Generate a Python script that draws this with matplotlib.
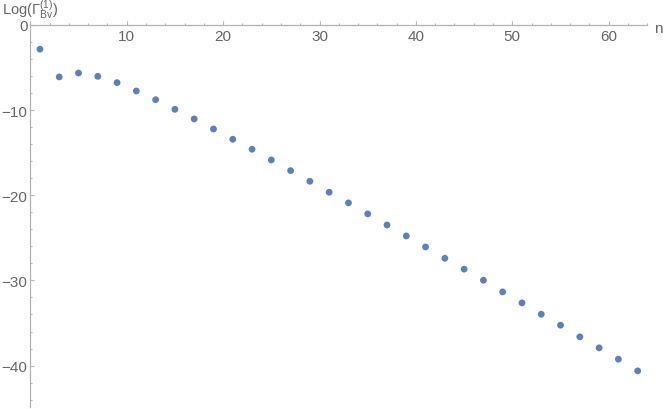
import matplotlib
matplotlib.use("Agg")
import matplotlib.pyplot as plt
from matplotlib.ticker import MultipleLocator, FuncFormatter

n_values = [1, 3, 5, 7, 9, 11, 13, 15, 17, 19, 21, 23, 25, 27, 29, 31,
            33, 35, 37, 39, 41, 43, 45, 47, 49, 51, 53, 55, 57, 59, 61, 63]
log_gamma = [-2.85, -6.11, -5.65, -6.04, -6.78, -7.76, -8.78, -9.91,
             -11.04, -12.22, -13.43, -14.60, -15.86, -17.11, -18.36, -19.65,
             -20.90, -22.19, -23.49, -24.78, -26.07, -27.40, -28.68, -29.98,
             -31.35, -32.64, -33.97, -35.26, -36.63, -37.92, -39.25, -40.62]

axis_color = "#b3b3b3"
text_color = "#666666"
point_color = "#5e81b5"

plt.rcParams['font.family'] = ['Liberation Sans', 'DejaVu Sans']
plt.rcParams['mathtext.fontset'] = 'custom'
plt.rcParams['mathtext.rm'] = 'Liberation Sans'
plt.rcParams['mathtext.it'] = 'Liberation Sans:italic'
plt.rcParams['mathtext.bf'] = 'Liberation Sans:bold'

fig = plt.figure(figsize=(6.64, 4.10), dpi=100)
ax = fig.add_axes([30.3 / 664, (410 - 408.3) / 410, 617.0 / 664, 382.4 / 410])
ax.scatter(n_values, log_gamma, s=24, color=point_color, edgecolors='none', zorder=3)
ax.set_xlim(0, 64)
ax.set_ylim(-44.9, 0)

for s in ['top', 'right']:
    ax.spines[s].set_visible(False)
ax.spines['bottom'].set_position(('data', 0))
ax.spines['left'].set_position(('data', 0))
for s in ['bottom', 'left']:
    ax.spines[s].set_color(axis_color)
    ax.spines[s].set_linewidth(0.9)

ax.xaxis.set_major_locator(MultipleLocator(10))
ax.xaxis.set_minor_locator(MultipleLocator(2))
ax.yaxis.set_major_locator(MultipleLocator(10))
ax.yaxis.set_minor_locator(MultipleLocator(2))

def fmt(v, pos):
    if abs(v) < 1e-9:
        return "0"
    if v < 0:
        return "\u2212" + "%d" % abs(v)
    return "%d" % v

ax.xaxis.set_major_formatter(FuncFormatter(lambda v, p: "" if abs(v) < 1e-9 else fmt(v, p)))
ax.yaxis.set_major_formatter(FuncFormatter(fmt))

ax.tick_params(axis='both', which='major', direction='in', length=3.0, width=0.8,
               color=axis_color, labelcolor=text_color, labelsize=11)
ax.tick_params(axis='both', which='minor', direction='in', length=1.7, width=0.8,
               color=axis_color)
ax.tick_params(axis='x', which='major', pad=3)
ax.tick_params(axis='y', which='major', pad=2)

fig.text(2 / 664, 1 - 10.5 / 410, r'Log($\Gamma_{\mathrm{Bv}}^{(1)}$)', color=text_color,
         fontsize=10.5, ha='left', va='center')
fig.text(658 / 664, 1 - 29 / 410, 'n', color=text_color, fontsize=11,
         ha='center', va='center')

fig.savefig("out.png", dpi=100)
